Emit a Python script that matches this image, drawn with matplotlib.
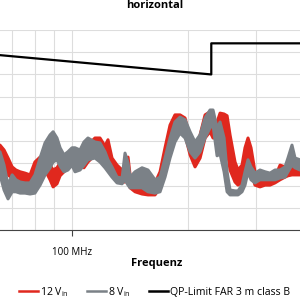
import numpy as np
import matplotlib
matplotlib.use("Agg")
import matplotlib.pyplot as plt
from matplotlib.lines import Line2D
from matplotlib.ticker import FixedLocator, NullFormatter

plt.rcParams['font.family'] = ['Open Sans', 'DejaVu Sans']

# frequency points in MHz (shared by both measurements)
freq = [65.0, 66.6, 68.2, 69.9, 71.5, 73.3, 75.5, 77.8, 80.1, 82.6,
        85.1, 87.7, 89.3, 91.4, 93.1, 95.3, 97.6, 100.0, 101.8, 104.9,
        107.4, 110.0, 114.7, 118.2, 121.8, 124.0, 127.0, 130.9, 134.9, 137.3,
        139.8, 141.5, 145.8, 152.0, 157.5, 164.3, 169.3, 174.4, 179.7, 185.1,
        190.8, 196.6, 202.6, 208.7, 215.1, 221.6, 228.3, 232.4, 238.1, 242.4,
        248.3, 252.8, 257.3, 265.1, 269.9, 276.4, 281.4, 286.5, 291.7, 298.7,
        307.8, 317.2, 326.8, 336.7, 347.0, 357.5, 363.9, 372.7, 379.5, 391.0]

# 12 V input: upper / lower envelope of the noisy trace (dBuV/m)
v12_hi = [19.1, 18.0, 16.2, 14.2, 13.5, 13.1, 12.8, 12.4, 15.3, 16.4,
          15.8, 14.6, 13.5, 14.0, 15.1, 15.8, 16.2, 16.7, 17.3, 17.6,
          18.0, 19.1, 20.7, 20.7, 18.9, 20.3, 16.2, 14.6, 13.5, 14.6,
          16.4, 12.4, 11.3, 10.8, 10.6, 10.6, 13.1, 18.5, 23.6, 25.9,
          25.9, 25.2, 20.7, 17.6, 21.4, 25.9, 26.6, 23.6, 24.3, 26.3,
          26.1, 25.7, 21.4, 15.3, 13.5, 14.6, 18.5, 20.7, 18.5, 13.1,
          11.9, 12.4, 11.7, 11.9, 14.6, 14.2, 14.0, 14.0, 14.0, 14.0]
v12_lo = [15.3, 13.5, 12.4, 11.7, 11.3, 11.3, 10.1, 9.9, 12.6, 14.0,
          13.5, 11.3, 9.7, 10.4, 12.2, 13.1, 14.0, 14.6, 14.9, 14.4,
          14.0, 15.3, 16.9, 16.9, 15.3, 14.4, 12.4, 11.3, 10.8, 10.8,
          11.3, 9.5, 8.6, 8.1, 7.9, 7.9, 9.5, 13.1, 18.5, 22.1,
          23.0, 21.4, 16.9, 14.2, 16.2, 20.7, 22.1, 20.7, 20.7, 22.5,
          21.2, 18.0, 13.5, 10.8, 10.1, 10.8, 13.5, 16.9, 13.1, 10.1,
          9.7, 10.1, 10.1, 10.6, 11.3, 11.9, 12.2, 12.4, 12.4, 12.4]

# 8 V input
v8_hi = [17.6, 14.6, 10.1, 12.4, 11.3, 10.8, 10.6, 10.6, 12.4, 16.2,
         19.6, 21.4, 22.1, 20.7, 18.5, 16.9, 17.6, 18.5, 18.5, 18.0,
         19.8, 20.7, 19.8, 19.6, 17.6, 15.8, 14.2, 11.9, 11.7, 17.3,
         15.1, 11.9, 13.1, 14.0, 13.5, 11.3, 11.9, 16.2, 20.7, 24.3,
         25.4, 24.8, 22.1, 19.8, 21.4, 25.2, 27.0, 27.0, 22.9, 24.3,
         20.7, 13.1, 9.0, 8.8, 8.8, 10.1, 13.1, 15.8, 14.2, 12.8,
         13.5, 13.1, 12.8, 13.5, 13.5, 14.2, 16.2, 19.1, 16.2, 15.8]
v8_lo = [12.4, 9.0, 7.0, 8.6, 8.6, 8.3, 8.3, 8.1, 8.3, 10.1,
         12.4, 14.0, 15.3, 15.8, 14.4, 13.1, 13.5, 14.6, 13.1, 13.5,
         14.6, 15.8, 16.2, 15.3, 14.0, 13.1, 11.9, 10.6, 10.4, 11.3,
         10.1, 9.5, 9.5, 9.5, 8.6, 8.3, 8.6, 11.9, 16.2, 19.8,
         21.8, 20.7, 17.6, 16.2, 17.6, 20.7, 23.0, 23.6, 16.7, 17.1,
         13.1, 8.6, 7.9, 7.9, 7.9, 8.6, 10.1, 13.1, 11.3, 10.6,
         11.3, 11.3, 11.3, 11.3, 11.7, 11.9, 13.1, 14.6, 14.0, 13.5]

# QP limit FAR 3 m class B
f_lim = [30, 230, 230, 1000]
lvl_lim = [42, 35, 42, 42]

red = '#e0281e'
gray = '#7b8187'

fig = plt.figure(figsize=(3, 3), dpi=100)
ax = fig.add_axes([0.0, 0.2333, 1.0, 0.6667])

ax.fill_between(freq, v12_lo, v12_hi, color=red, lw=2.2, edgecolor=red, joinstyle='round')
ax.fill_between(freq, v8_lo, v8_hi, color=gray, lw=2.2, edgecolor=gray, joinstyle='round')
ax.plot(f_lim, lvl_lim, color='black', lw=1.6)

ax.set_xscale('log')
ax.set_xlim(65, 391)
ax.set_ylim(0, 45)

ax.xaxis.set_major_locator(FixedLocator([100]))
ax.xaxis.set_minor_locator(FixedLocator([70, 80, 90, 200, 300]))
ax.xaxis.set_minor_formatter(NullFormatter())
ax.set_xticklabels(['100 MHz'])
ax.set_yticks(np.arange(0, 46, 5))
ax.set_yticklabels([])
ax.tick_params(axis='y', length=0)
ax.tick_params(axis='x', which='major', length=4, width=0.8, color='#444444', labelsize=7, pad=8)
ax.tick_params(axis='x', which='minor', length=0)
ax.grid(True, which='both', color='#dddddd', lw=0.8)
ax.set_axisbelow(True)

for s in ['left', 'right', 'top']:
    ax.spines[s].set_visible(False)
ax.spines['bottom'].set_color('#444444')
ax.spines['bottom'].set_linewidth(0.8)

fig.text(0.523, 0.123, 'Frequenz', fontsize=8, fontweight='bold', ha='center', va='center')
fig.text(0.517, 0.983, 'horizontal', fontsize=8, fontweight='bold', ha='center', va='center')

handles = [Line2D([], [], color=red, lw=1.8),
           Line2D([], [], color=gray, lw=1.8),
           Line2D([], [], color='black', lw=1.8)]
labels = ['12 V$_{\\mathregular{in}}$', '8 V$_{\\mathregular{in}}$', 'QP-Limit FAR 3 m class B']
fig.legend(handles, labels, loc='center', bbox_to_anchor=(0.515, 0.027), ncol=3, frameon=False,
           fontsize=7.6, handlelength=1.8, handletextpad=0.2, columnspacing=1.7)

fig.savefig('out.png', dpi=100)
